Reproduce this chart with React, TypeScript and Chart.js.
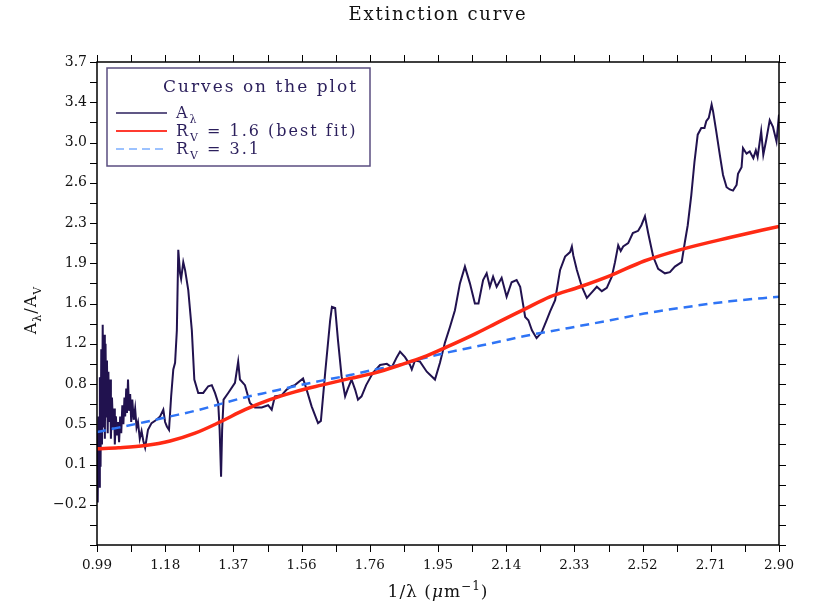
import React, { useEffect, useRef } from "react";
import { Chart, registerables } from "chart.js";

Chart.register(...registerables);

// ---------- data ----------
const obsWave = [
  0.990, 0.992, 0.994, 0.996, 0.998, 1.000, 1.002, 1.004, 1.006, 1.008, 1.010, 1.012, 1.014, 1.016, 1.018, 1.020,
  1.022, 1.024, 1.027, 1.029, 1.032, 1.035, 1.038, 1.040, 1.043, 1.046, 1.049, 1.052, 1.055, 1.058, 1.061, 1.064,
  1.067, 1.069, 1.072, 1.074, 1.077, 1.080, 1.083, 1.086, 1.089, 1.093, 1.097, 1.101, 1.105, 1.110, 1.115, 1.120,
  1.125, 1.133, 1.143, 1.157, 1.167, 1.176, 1.181, 1.186, 1.192, 1.198, 1.204, 1.209, 1.214, 1.218, 1.223, 1.226,
  1.232, 1.237, 1.246, 1.256, 1.263, 1.274, 1.288, 1.302, 1.312, 1.321, 1.330, 1.334, 1.338, 1.341, 1.345, 1.358,
  1.377, 1.386, 1.391, 1.405, 1.419, 1.433, 1.452, 1.470, 1.480, 1.489, 1.508, 1.522, 1.536, 1.545, 1.568, 1.578,
  1.592, 1.610, 1.618, 1.630, 1.644, 1.649, 1.658, 1.666, 1.676, 1.686, 1.694, 1.704, 1.714, 1.722, 1.732, 1.745,
  1.764, 1.784, 1.803, 1.817, 1.831, 1.840, 1.854, 1.868, 1.873, 1.882, 1.896, 1.915, 1.938, 1.952, 1.966, 1.980,
  1.994, 2.008, 2.022, 2.036, 2.050, 2.060, 2.073, 2.083, 2.092, 2.101, 2.111, 2.125, 2.139, 2.153, 2.167, 2.177,
  2.191, 2.200, 2.210, 2.223, 2.237, 2.251, 2.261, 2.275, 2.289, 2.303, 2.317, 2.322, 2.326, 2.336, 2.350, 2.364,
  2.378, 2.392, 2.406, 2.420, 2.434, 2.443, 2.452, 2.459, 2.466, 2.480, 2.493, 2.508, 2.517, 2.527, 2.536, 2.550,
  2.564, 2.583, 2.597, 2.611, 2.630, 2.639, 2.647, 2.657, 2.666, 2.675, 2.685, 2.694, 2.699, 2.706, 2.714, 2.718,
  2.727, 2.737, 2.746, 2.756, 2.765, 2.774, 2.784, 2.788, 2.798, 2.802, 2.812, 2.821, 2.831, 2.838, 2.843, 2.853,
  2.859, 2.867, 2.877, 2.886, 2.896, 2.903,
];
const obsExtinction = [
  0.40, -0.22, 0.55, -0.08, 0.90, 0.10, 1.15, 0.30, 1.37, 0.45, 1.28, 0.35, 1.20, 0.55, 1.05, 0.40,
  0.95, 0.50, 0.88, 0.35, 0.72, 0.45, 0.62, 0.30, 0.55, 0.38, 0.50, 0.32, 0.55, 0.40, 0.65, 0.48,
  0.72, 0.55, 0.80, 0.58, 0.88, 0.60, 0.75, 0.50, 0.70, 0.52, 0.62, 0.45, 0.50, 0.35, 0.42, 0.33,
  0.27, 0.43, 0.49, 0.52, 0.55, 0.61, 0.50, 0.46, 0.43, 0.73, 0.97, 1.03, 1.32, 2.04, 1.83, 1.78,
  1.93, 1.86, 1.68, 1.32, 0.88, 0.76, 0.76, 0.82, 0.83, 0.76, 0.67, 0.43, 0.01, 0.43, 0.70, 0.76,
  0.85, 1.04, 0.88, 0.83, 0.67, 0.63, 0.63, 0.65, 0.61, 0.73, 0.74, 0.79, 0.82, 0.83, 0.89, 0.79,
  0.64, 0.49, 0.51, 0.94, 1.41, 1.53, 1.52, 1.23, 0.91, 0.73, 0.80, 0.88, 0.79, 0.70, 0.73, 0.83,
  0.94, 1.01, 1.02, 0.99, 1.08, 1.13, 1.08, 1.01, 0.97, 1.05, 1.04, 0.95, 0.88, 1.03, 1.21, 1.35,
  1.50, 1.74, 1.89, 1.74, 1.56, 1.56, 1.77, 1.83, 1.71, 1.80, 1.71, 1.79, 1.62, 1.75, 1.77, 1.71,
  1.44, 1.41, 1.32, 1.25, 1.30, 1.41, 1.49, 1.59, 1.86, 1.98, 2.02, 2.07, 1.99, 1.86, 1.71, 1.61,
  1.66, 1.71, 1.67, 1.70, 1.80, 1.93, 2.08, 2.03, 2.07, 2.10, 2.19, 2.21, 2.26, 2.34, 2.19, 1.98,
  1.87, 1.83, 1.84, 1.89, 1.93, 2.11, 2.26, 2.53, 2.83, 3.07, 3.13, 3.13, 3.19, 3.22, 3.34, 3.28,
  3.10, 2.89, 2.71, 2.60, 2.58, 2.57, 2.62, 2.72, 2.78, 2.95, 2.90, 2.92, 2.86, 2.93, 2.87, 3.10,
  2.89, 3.02, 3.20, 3.14, 3.01, 3.25,
];

const fitWave = [
  0.99, 1.05, 1.125, 1.195, 1.265, 1.335, 1.405, 1.475, 1.545, 1.62, 1.70, 1.77, 1.84,
  1.905, 1.97, 2.045, 2.12, 2.19, 2.26, 2.345, 2.43, 2.525, 2.625, 2.765, 2.903,
];
const fitRv16 = [
  0.26, 0.27, 0.29, 0.33, 0.40, 0.50, 0.61, 0.70, 0.77, 0.83, 0.89, 0.94, 1.01,
  1.08, 1.17, 1.28, 1.40, 1.51, 1.62, 1.71, 1.81, 1.94, 2.04, 2.15, 2.25,
];
const fitRv31 = [
  0.41, 0.45, 0.50, 0.55, 0.60, 0.66, 0.72, 0.77, 0.82, 0.87, 0.92, 0.97, 1.01,
  1.07, 1.12, 1.17, 1.22, 1.27, 1.31, 1.36, 1.41, 1.47, 1.52, 1.58, 1.62,
];

const xTickLabels = ["0.99", "1.18", "1.37", "1.56", "1.76", "1.95", "2.14", "2.33", "2.52", "2.71", "2.90"];
const yTickLabels = ["", "\u22120.2", "0.1", "0.5", "0.8", "1.2", "1.6", "1.9", "2.3", "2.6", "3.0", "3.4", "3.7"];

const X_MIN = 0.99;
const X_STEP = 0.1913;
const Y_MIN = -0.6;
const Y_STEP = 0.36;

const FONT = "'DejaVu Serif', serif";
const INK = "#2b1f5c";

type Part = { t: string; sub?: boolean; sup?: boolean; italic?: boolean };

function drawRich(
  ctx: CanvasRenderingContext2D,
  parts: Part[],
  x: number,
  y: number,
  size: number,
  color: string,
  align: "left" | "center",
  spacing = 0
) {
  const fontFor = (p: Part) =>
    `${p.italic ? "italic " : ""}${p.sub || p.sup ? Math.round(size * 0.68) : size}px ${FONT}`;
  (ctx as any).letterSpacing = `${spacing}px`;
  const widths = parts.map((p) => {
    ctx.font = fontFor(p);
    return ctx.measureText(p.t).width;
  });
  const total = widths.reduce((a, b) => a + b, 0);
  let cx = align === "center" ? x - total / 2 : x;
  ctx.fillStyle = color;
  ctx.textBaseline = "alphabetic";
  ctx.textAlign = "left";
  parts.forEach((p, i) => {
    ctx.font = fontFor(p);
    const dy = p.sub ? size * 0.3 : p.sup ? -size * 0.42 : 0;
    ctx.fillText(p.t, cx, y + dy);
    cx += widths[i];
  });
  (ctx as any).letterSpacing = "0px";
}

const decorPlugin = {
  id: "decor",
  afterDraw(chart: any) {
    const { ctx, chartArea, scales } = chart;
    const { left, right, top, bottom } = chartArea;
    const xs = scales.x;
    const ys = scales.y;
    ctx.save();

    // frame
    ctx.strokeStyle = "#000";
    ctx.lineWidth = 1.5;
    ctx.strokeRect(left, top, right - left, bottom - top);

    // ticks (major + minor) on all four sides, outward
    ctx.lineWidth = 1;
    const tl = 7;
    ctx.beginPath();
    for (let i = 0; i <= 20; i++) {
      const px = Math.round(xs.getPixelForValue(X_MIN + (i * X_STEP) / 2)) + 0.5;
      ctx.moveTo(px, bottom);
      ctx.lineTo(px, bottom + tl);
      ctx.moveTo(px, top);
      ctx.lineTo(px, top - tl);
    }
    for (let i = 0; i <= 24; i++) {
      const py = Math.round(ys.getPixelForValue(Y_MIN + (i * Y_STEP) / 2)) + 0.5;
      ctx.moveTo(left, py);
      ctx.lineTo(left - tl, py);
      ctx.moveTo(right, py);
      ctx.lineTo(right + tl, py);
    }
    ctx.stroke();

    // title
    drawRich(ctx, [{ t: "Extinction curve" }], (left + right) / 2, 20, 18, "#111", "center", 1.8);

    // x axis title
    drawRich(
      ctx,
      [{ t: "1/\u03bb (" }, { t: "\u03bc", italic: true }, { t: "m" }, { t: "\u22121", sup: true }, { t: ")" }],
      (left + right) / 2,
      597,
      17,
      "#111",
      "center",
      1
    );

    // y axis title
    ctx.save();
    ctx.translate(36, 310);
    ctx.rotate(-Math.PI / 2);
    drawRich(
      ctx,
      [{ t: "A" }, { t: "\u03bb", sub: true }, { t: "/A" }, { t: "V", sub: true }],
      0,
      0,
      16,
      "#111",
      "center",
      1
    );
    ctx.restore();

    // legend box
    const lx = 107, ly = 68, lw = 263, lh = 98;
    ctx.fillStyle = "#fff";
    ctx.fillRect(lx, ly, lw, lh);
    ctx.strokeStyle = "#5a4d80";
    ctx.lineWidth = 1.5;
    ctx.strokeRect(lx, ly, lw, lh);

    drawRich(ctx, [{ t: "Curves on the plot" }], 163, 92, 17, INK, "left", 2);

    const rows = [
      { y: 113, color: "#2b1f5c", dash: [] as number[], w: 1.5, parts: [{ t: "A" }, { t: "\u03bb", sub: true }] },
      {
        y: 131,
        color: "#ff3b30",
        dash: [] as number[],
        w: 2,
        parts: [{ t: "R" }, { t: "V", sub: true }, { t: " = 1.6 (best fit)" }],
      },
      {
        y: 149,
        color: "#9cc2ff",
        dash: [8, 5],
        w: 2,
        parts: [{ t: "R" }, { t: "V", sub: true }, { t: " = 3.1" }],
      },
    ];
    rows.forEach((r) => {
      ctx.strokeStyle = r.color;
      ctx.lineWidth = r.w;
      ctx.setLineDash(r.dash);
      ctx.beginPath();
      ctx.moveTo(116, r.y);
      ctx.lineTo(167, r.y);
      ctx.stroke();
      ctx.setLineDash([]);
      drawRich(ctx, r.parts, 176, r.y + 5, 16, INK, "left", 2);
    });

    ctx.restore();
  },
};

export default function App() {
  const canvasRef = useRef<HTMLCanvasElement | null>(null);

  useEffect(() => {
    if (!canvasRef.current) return;
    const obs = obsWave.map((x, i) => ({ x, y: obsExtinction[i] }));
    const red = fitWave.map((x, i) => ({ x, y: fitRv16[i] }));
    const blue = fitWave.map((x, i) => ({ x, y: fitRv31[i] }));

    const chart = new Chart(canvasRef.current, {
      type: "line",
      data: {
        datasets: [
          {
            label: "R_V = 1.6 (best fit)",
            data: red,
            borderColor: "#ff2a14",
            borderWidth: 3.5,
            pointRadius: 0,
            cubicInterpolationMode: "monotone",
            fill: false,
          },
          {
            label: "R_V = 3.1",
            data: blue,
            borderColor: "#2f74f5",
            borderWidth: 2.5,
            borderDash: [9, 6],
            pointRadius: 0,
            cubicInterpolationMode: "monotone",
            fill: false,
          },
          {
            label: "A_lambda",
            data: obs,
            borderColor: "#21124f",
            borderWidth: 2,
            pointRadius: 0,
            tension: 0,
            fill: false,
          },
        ],
      },
      options: {
        responsive: false,
        animation: false,
        devicePixelRatio: 1,
        layout: { padding: { left: 0, top: 62, right: 35, bottom: 0 } },
        plugins: { legend: { display: false }, tooltip: { enabled: false }, title: { display: false } },
        scales: {
          x: {
            type: "linear",
            min: X_MIN,
            max: X_MIN + 10 * X_STEP,
            grid: { display: false, drawTicks: true, tickLength: 7 },
            border: { display: false },
            afterFit: (s: any) => {
              s.height = 61;
            },
            afterBuildTicks: (s: any) => {
              s.ticks = xTickLabels.map((_, i) => ({ value: X_MIN + i * X_STEP }));
            },
            ticks: {
              autoSkip: false,
              maxRotation: 0,
              padding: 5,
              color: "#111",
              font: { family: FONT, size: 13.5 },
              callback: (_v: any, i: number) => xTickLabels[i],
            },
          },
          y: {
            type: "linear",
            min: Y_MIN,
            max: Y_MIN + 12 * Y_STEP,
            grid: { display: false, drawTicks: true, tickLength: 7 },
            border: { display: false },
            afterFit: (s: any) => {
              s.width = 97;
            },
            afterBuildTicks: (s: any) => {
              s.ticks = yTickLabels.map((_, i) => ({ value: Y_MIN + i * Y_STEP }));
            },
            ticks: {
              autoSkip: false,
              padding: 3,
              color: "#111",
              font: { family: FONT, size: 14 },
              callback: (_v: any, i: number) => yTickLabels[i],
            },
          },
        },
      },
      plugins: [decorPlugin],
    } as any);

    return () => chart.destroy();
  }, []);

  return (
    <div style={{ position: "fixed", left: 0, top: 0, width: 814, height: 606, background: "#fff" }}>
      <canvas ref={canvasRef} width={814} height={606} />
    </div>
  );
}
